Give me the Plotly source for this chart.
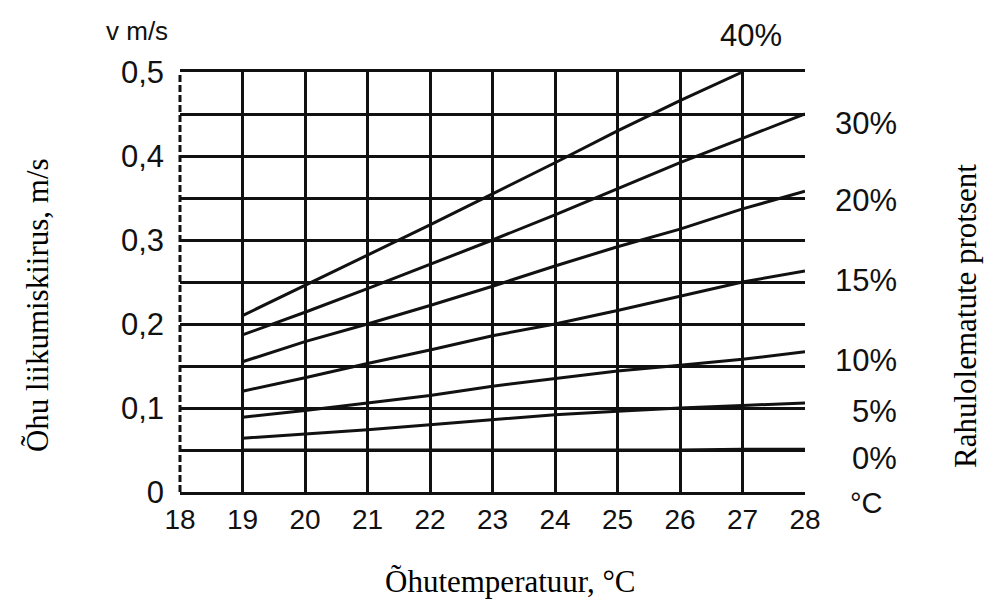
import plotly.graph_objects as go

# Air temperature (°C) at which each curve is read
temps = [19, 20, 21, 22, 23, 24, 25, 26, 27, 28]
temps_40 = [19, 20, 21, 22, 23, 24, 25, 26, 27]

# Permissible air velocity (m/s) for each percentage of dissatisfied occupants
v_0 = [0.050, 0.050, 0.050, 0.050, 0.050, 0.050, 0.050, 0.050, 0.051, 0.051]
v_5 = [0.064, 0.069, 0.074, 0.080, 0.086, 0.092, 0.096, 0.100, 0.103, 0.106]
v_10 = [0.089, 0.097, 0.106, 0.115, 0.126, 0.135, 0.144, 0.151, 0.158, 0.167]
v_15 = [0.120, 0.136, 0.153, 0.169, 0.186, 0.200, 0.216, 0.233, 0.250, 0.263]
v_20 = [0.155, 0.179, 0.200, 0.222, 0.245, 0.269, 0.292, 0.313, 0.337, 0.358]
v_30 = [0.187, 0.214, 0.242, 0.271, 0.300, 0.330, 0.361, 0.392, 0.421, 0.450]
v_40 = [0.210, 0.246, 0.282, 0.318, 0.355, 0.392, 0.430, 0.466, 0.500]

curve_labels = ["0%", "5%", "10%", "15%", "20%", "30%", "40%"]

# Axis ticks
x_ticks = [18, 19, 20, 21, 22, 23, 24, 25, 26, 27, 28]
y_ticks = [0, 0.1, 0.2, 0.3, 0.4, 0.5]
y_tick_text = ["0", "0,1", "0,2", "0,3", "0,4", "0,5"]

INK = "#111111"
SANS = "Liberation Sans, Arial, sans-serif"
SERIF = "Liberation Serif, Times New Roman, serif"

series = [
    (curve_labels[0], temps, v_0),
    (curve_labels[1], temps, v_5),
    (curve_labels[2], temps, v_10),
    (curve_labels[3], temps, v_15),
    (curve_labels[4], temps, v_20),
    (curve_labels[5], temps, v_30),
    (curve_labels[6], temps_40, v_40),
]

fig = go.Figure()
for name, xs, ys in series:
    fig.add_trace(go.Scatter(
        x=xs, y=ys, mode="lines", name=name,
        line=dict(color=INK, width=3),
        hoverinfo="x+y+name", showlegend=False,
    ))

annotations = []
# Curve labels: 40% sits above the end of its curve, the rest to the right of the frame
for name, xs, ys in series:
    if name == "40%":
        annotations.append(dict(
            x=xs[-1], y=ys[-1], xref="x", yref="y", text=name,
            showarrow=False, xanchor="center", yanchor="middle",
            yshift=37, xshift=8, font=dict(family=SANS, size=31, color=INK),
        ))
    else:
        annotations.append(dict(
            x=xs[-1], y=ys[-1], xref="x", yref="y", text=name,
            showarrow=False, xanchor="right", yanchor="middle",
            xshift=94, yshift=-9, font=dict(family=SANS, size=31, color=INK),
        ))

# Unit marks at the axis ends
annotations.append(dict(
    x=28, y=0, xref="x", yref="y", text="°C", showarrow=False,
    xanchor="center", yanchor="middle", xshift=61, yshift=-11,
    font=dict(family=SANS, size=29, color=INK),
))
annotations.append(dict(
    x=-0.069, y=1.0976, xref="paper", yref="paper", text="v m/s",
    showarrow=False, xanchor="center", yanchor="middle",
    font=dict(family=SANS, size=26, color=INK),
))

# Axis titles
annotations.append(dict(
    x=-0.2288, y=0.445, xref="paper", yref="paper",
    text="Õhu liikumiskiirus, m/s", textangle=-90, showarrow=False,
    xanchor="center", yanchor="middle",
    font=dict(family=SERIF, size=31, color="#000000"),
))
annotations.append(dict(
    x=1.256, y=0.419, xref="paper", yref="paper",
    text="Rahulolematute protsent", textangle=-90, showarrow=False,
    xanchor="center", yanchor="middle",
    font=dict(family=SERIF, size=31, color="#000000"),
))
annotations.append(dict(
    x=0.528, y=-0.212, xref="paper", yref="paper",
    text="Õhutemperatuur, °C", showarrow=False,
    xanchor="center", yanchor="middle",
    font=dict(family=SERIF, size=31, color="#000000"),
))

fig.update_layout(
    width=986, height=601,
    margin=dict(l=180, r=181, t=72, b=109),
    paper_bgcolor="white", plot_bgcolor="white",
    annotations=annotations,
    # broken left edge of the frame
    shapes=[dict(
        type="line", xref="paper", yref="paper", x0=0, x1=0, y0=0, y1=1,
        line=dict(color=INK, width=3, dash="7px,3px"),
    )],
)

fig.update_xaxes(
    range=[18, 28], tickmode="array", tickvals=x_ticks,
    showgrid=False, zeroline=False,
    minor=dict(tickmode="array", tickvals=x_ticks[1:], showgrid=True,
               gridcolor=INK, gridwidth=2.8, ticks=""),
    showline=True, mirror=True, linecolor=INK, linewidth=3,
    ticks="", ticklabelstandoff=0,
    tickfont=dict(family=SANS, size=28, color=INK),
)
fig.update_yaxes(
    range=[0, 0.5], tickmode="array", tickvals=y_ticks, ticktext=y_tick_text,
    showgrid=True, gridcolor=INK, gridwidth=2.8, zeroline=False,
    minor=dict(dtick=0.05, showgrid=True, gridcolor=INK, gridwidth=2.8, ticks=""),
    showline=False, ticks="", ticklabelstandoff=15,
    tickfont=dict(family=SANS, size=31, color=INK),
)

fig.write_html("out.html")
